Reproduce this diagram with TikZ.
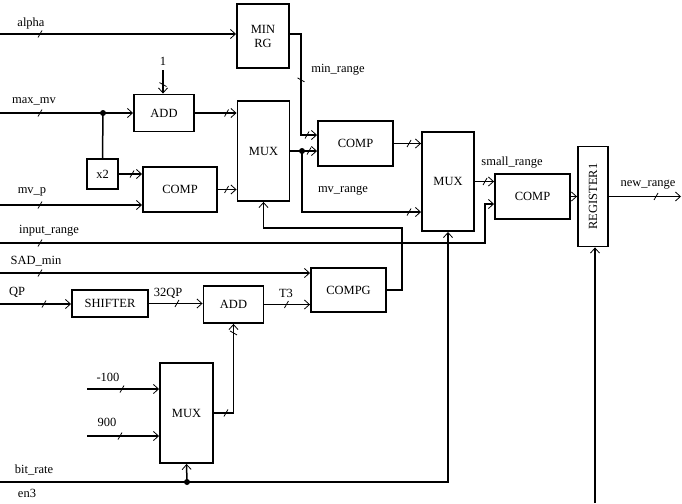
\documentclass[tikz,border=0pt]{standalone}
\usepackage{fontspec}
\setmainfont{Liberation Serif}
\usepackage{graphicx}
\usetikzlibrary{arrows.meta,decorations.markings}
\tikzset{
  blk/.style={draw, line width=1.9pt, inner sep=0pt, align=center},
  link/.style={line width=1.5pt},
  sig/.style={link, -{Straight Barb[length=5pt,width=9pt,line width=0.8pt]}},
  tick at/.style={postaction={decorate,
      decoration={markings, mark=at position #1 with
        {\draw[-, line width=0.8pt] (-2pt,-3.5pt) -- (2pt,3.5pt);}}}},
  lbl/.style={inner sep=0pt},
  jdot/.style={circle, fill, inner sep=0pt, minimum size=6pt},
}
\begin{document}
\begin{tikzpicture}[x=1pt, y=-1pt, font=\fontsize{12.5}{14}\selectfont]
\useasboundingbox (0,0) rectangle (682,503);
% blocks
\node[blk, minimum width=52pt, minimum height=64pt] (minrg) at (263,36) {MIN\\RG};
\node[blk, minimum width=60pt, minimum height=37pt] (add1) at (164,113) {ADD};
\node[blk, minimum width=31pt, minimum height=30pt] (x2) at (102.5,174) {x2};
\node[blk, minimum width=74pt, minimum height=45pt] (compa) at (180,189.5) {COMP};
\node[blk, minimum width=52pt, minimum height=100pt] (mux1) at (263.5,151) {MUX};
\node[blk, minimum width=75pt, minimum height=45pt] (comp1) at (355.5,143.5) {COMP};
\node[blk, minimum width=52pt, minimum height=99pt] (mux2) at (448,181.5) {MUX};
\node[blk, minimum width=75pt, minimum height=45pt] (comp2) at (532.5,196.5) {COMP};
\node[blk, minimum width=30pt, minimum height=100pt] (reg) at (593,196.5) {\rotatebox{90}{REGISTER1}};
\node[blk, minimum width=76pt, minimum height=27pt] (shifter) at (110,303.5) {SHIFTER};
\node[blk, minimum width=60pt, minimum height=37pt] (add2) at (233.5,304.5) {ADD};
\node[blk, minimum width=75pt, minimum height=44pt] (compg) at (348.5,290) {COMPG};
\node[blk, minimum width=53pt, minimum height=100pt] (mux3) at (186.5,413) {MUX};

% inputs and outputs
\coordinate (in_alpha) at (0,34);
\coordinate (in_maxmv) at (0,113);
\coordinate (in_mvp) at (0,205);
\coordinate (in_range) at (0,243);
\coordinate (in_sad) at (0,273);
\coordinate (in_qp) at (0,304);
\coordinate (in_m100) at (87,389);
\coordinate (in_900) at (87,436);
\coordinate (in_bit) at (0,482);
\coordinate (in_en) at (595,503);
\coordinate (out_range) at (681,196.5);
\coordinate (fb) at (402,228);
\node[jdot] (j1) at (103,113) {};
\node[jdot] (j2) at (302,151) {};
\node[jdot] (j3) at (187,482) {};
\node[lbl, inner ysep=5pt] (one) at (163,61) {1};

% labels
\node[lbl] (l_alpha) at (31,23) {alpha};
\node[lbl] (l_maxmv) at (34,101) {max\_mv};
\node[lbl] (l_mvp) at (32,192) {mv\_p};
\node[lbl] (l_range) at (49,231) {input\_range};
\node[lbl] (l_sad) at (36,261) {SAD\_min};
\node[lbl] (l_qp) at (17,292) {QP};
\node[lbl] (l_32qp) at (168,293) {32QP};
\node[lbl] (l_t3) at (286,293) {T3};
\node[lbl] (l_minrange) at (338,70) {min\_range};
\node[lbl] (l_mvrange) at (343,191) {mv\_range};
\node[lbl] (l_small) at (512,163) {small\_range};
\node[lbl] (l_new) at (648,185) {new\_range};
\node[lbl] (l_m100) at (108,377) {-100};
\node[lbl] (l_900) at (107,422) {900};
\node[lbl] (l_bit) at (34,470) {bit\_rate};
\node[lbl] (l_en) at (27,493) {en3};

% connections
\draw[sig, tick at=40pt] (in_alpha) -- (minrg.west |- in_alpha);
\draw[sig, tick at=57pt, tick at=-10pt] (minrg.east |- in_alpha) -| ([xshift=-16pt,yshift=8.5pt]comp1.west) -- ([yshift=8.5pt]comp1.west);
\draw[sig, tick at=40pt] (in_maxmv) -- (add1.west);
\draw[link] (j1.center) -- (x2.north);
\draw[sig, tick at=-9pt] (one.south) -- (one.south |- add1.north);
\draw[sig, tick at=-10pt] (add1.east) -- (mux1.west |- add1.east);
\draw[sig, tick at=-10pt] (x2.east) -- (compa.west |- x2.east);
\draw[sig, tick at=40pt] (in_mvp) -- (compa.west |- in_mvp);
\draw[sig, tick at=-10pt] (compa.east) -- (mux1.west |- compa.east);
\draw[sig, tick at=-8pt] (mux1.east |- j2) -- (j2.center) -- (comp1.west |- j2);
\draw[sig, tick at=-12pt] (j2.center) |- ([yshift=-30.5pt]mux2.west);
\draw[sig, tick at=-12pt] (comp1.east) -- (mux2.west |- comp1.east);
\draw[sig, tick at=-9pt] (mux2.east) -- (comp2.west |- mux2.east);
\draw[sig, tick at=40pt] (in_range) -| ([xshift=-9pt,yshift=-7.5pt]comp2.west) -- ([yshift=-7.5pt]comp2.west);
\draw[sig] (comp2.east) -- (reg.west |- comp2.east);
\draw[sig, tick at=-25pt] (reg.east |- out_range) -- (out_range);
\draw[sig] (in_en) -- (reg.south -| in_en);
\draw[sig, tick at=40pt] (in_sad) -- (compg.west |- in_sad);
\draw[sig, tick at=44pt] (in_qp) -- (shifter.west |- in_qp);
\draw[sig, tick at=28pt] (shifter.east) -- (add2.west |- shifter.east);
\draw[sig, tick at=22pt] (add2.east) -- (compg.west |- add2.east);
\draw[sig] (compg.east) -| (fb) -| (mux1.south);
\draw[sig, tick at=12pt, tick at=-9pt] (mux3.east) -| (add2.south);
\draw[sig, tick at=35pt] (in_m100) -- (mux3.west |- in_m100);
\draw[sig, tick at=33pt] (in_900) -- (mux3.west |- in_900);
\draw[sig] (in_bit) -| (mux2.south);
\draw[sig] (j3.center) -- (mux3.south);
\end{tikzpicture}
\end{document}
